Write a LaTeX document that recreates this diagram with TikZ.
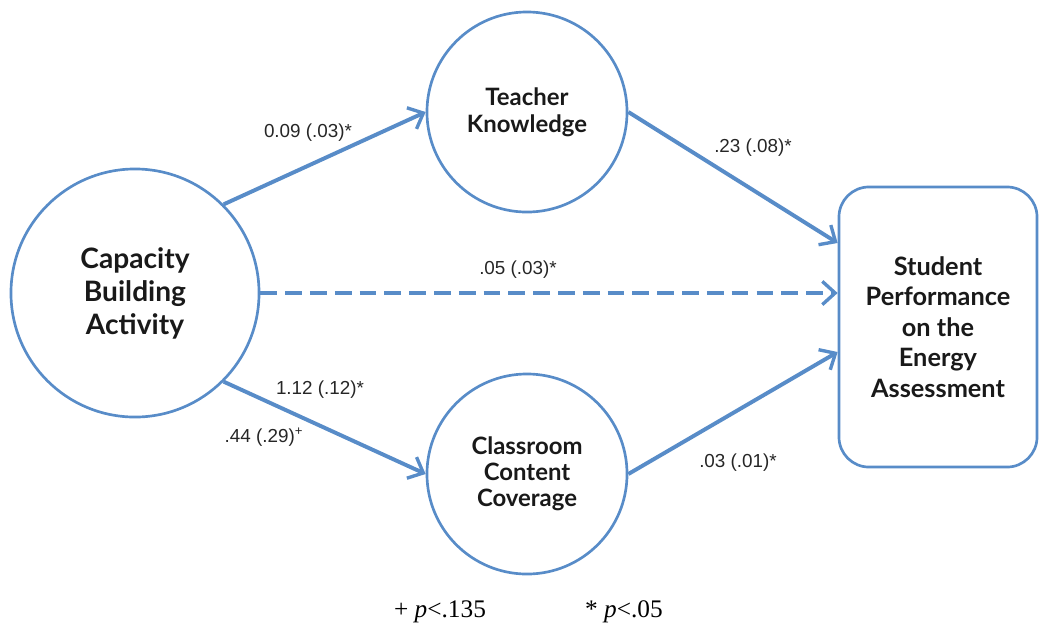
\documentclass[tikz,border=0pt]{standalone}
\usepackage{fontspec}
\setmainfont{Liberation Serif}
\newfontfamily\nodefont{Lato}
\newfontfamily\labfont{Liberation Sans}
\usetikzlibrary{arrows.meta}
\definecolor{azul}{RGB}{88,140,200}
\begin{document}
\begin{tikzpicture}[
        x=0.025cm, y=-0.025cm,
        circulo/.style={draw=azul, line width=1.9pt, circle, inner sep=0pt, align=center,
        text=black!90},
        caja/.style={draw=azul, line width=1.9pt, rounded corners=0.75cm, align=center,
        minimum width=4.95cm, minimum height=7cm, text=black!90},
        flecha/.style={draw=azul, line width=2.8pt,
        -{Straight Barb[length=0.32cm, width=0.58cm, line width=2.4pt]}},
        coef/.style={font=\labfont\fontsize{13.4}{15}\selectfont, text=black!85, inner sep=1pt}
    ]
        \useasboundingbox (0,0) rectangle (1039,627);
        \node[circulo, minimum size=6.2cm, font=\nodefont\bfseries\fontsize{20}{23.5}\selectfont]
            (cba) at (135,293) {Capacity\\Building\\Activity};
        \node[circulo, minimum size=5.0cm, font=\nodefont\bfseries\fontsize{17}{19.2}\selectfont]
            (tk) at (527,112) {Teacher\\Knowledge};
        \node[circulo, minimum size=5.0cm, font=\nodefont\bfseries\fontsize{17}{18.6}\selectfont]
            (ccc) at (527,474) {Classroom\\Content\\Coverage};
        \node[caja, font=\nodefont\bfseries\fontsize{18}{21.8}\selectfont]
            (spa) at (938,327) {Student\\Performance\\on the\\Energy\\Assessment};
        \draw[flecha] (cba.45) -- (tk.west);
        \draw[flecha] (tk.east) -- ([yshift=2.1cm]spa.west);
        \draw[flecha, dash pattern=on 0.42cm off 0.2cm] (cba.east) -- (cba.east -| spa.west);
        \draw[flecha] (cba.-45) -- (ccc.west);
        \draw[flecha] (ccc.east) -- ([yshift=-0.625cm]spa.west);
        \node[coef] (c1) at (308,133) {0.09 (.03)*};
        \node[coef] (c2) at (753,148) {.23 (.08)*};
        \node[coef] (c3) at (518,270) {.05 (.03)*};
        \node[coef] (c4) at (320,390) {1.12 (.12)*};
        \node[coef] (c5) at (264,437) {.44 (.29)\textsuperscript{+}};
        \node[coef] (c6) at (738,463) {.03 (.01)*};
        \node[font=\fontsize{18}{20}\selectfont] (n1) at (440,612) {+ \textit{p}<.135};
        \node[font=\fontsize{18}{20}\selectfont] (n2) at (624,612) {* \textit{p}<.05};
    \end{tikzpicture}
\end{document}
